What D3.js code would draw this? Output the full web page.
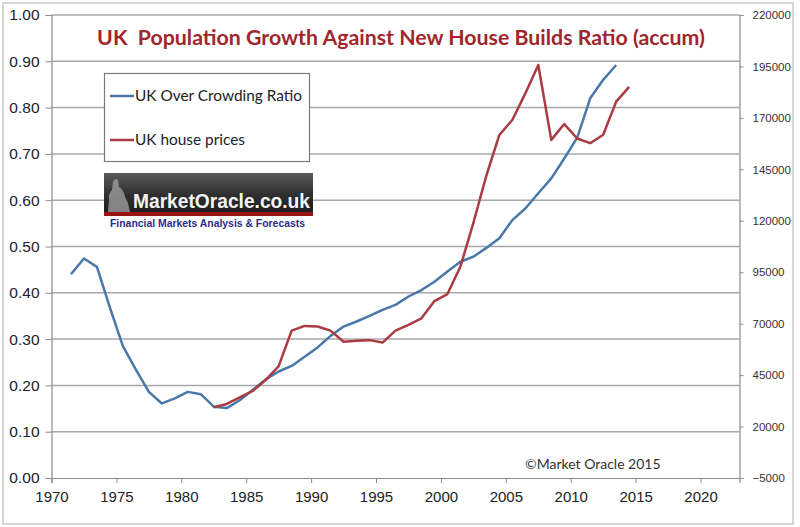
<!DOCTYPE html>
<html>
<head>
<meta charset="utf-8">
<script src="https://cdn.jsdelivr.net/npm/d3@7"></script>
<style>
  body { margin: 0; background: #fff; }
  svg { font-family: Lato, "Open Sans", sans-serif; }
</style>
</head>
<body>
<script>
// UK over crowding ratio (left axis), annual
const ratioYears = d3.range(1971, 2014)
const ratioValues = [0.44, 0.474, 0.456, 0.368, 0.285, 0.234, 0.186, 0.161, 0.172, 0.186,
    0.181, 0.154, 0.151, 0.168, 0.19, 0.213, 0.23, 0.242, 0.262, 0.282,
    0.307, 0.327, 0.338, 0.35, 0.363, 0.374, 0.392, 0.406, 0.424, 0.446,
    0.467, 0.478, 0.497, 0.518, 0.557, 0.582, 0.615, 0.647, 0.69, 0.735,
    0.82, 0.86, 0.892]

// UK house prices (right axis), annual
const priceYears = d3.range(1982, 2015)
const priceValues = [29400, 31000, 34200, 37300, 42600, 49400, 66600, 68900, 68600, 66600,
    61200, 61700, 62000, 60800, 66600, 69400, 72600, 81000, 84400, 97700,
    119000, 142000, 161700, 169000, 181900, 195700, 159300, 167000, 160000, 157700,
    161800, 177900, 185100]

const yearTicks = d3.range(1970, 2021, 5)
const leftTicks = d3.range(0, 11).map(d => d / 10)
const rightTicks = d3.range(-5000, 220001, 25000)

const W = 800, H = 527
const plot = { left: 51.5, right: 739.5, top: 15, bottom: 478 }

const svg = d3.select('body').append('svg')
    .attr('width', W)
    .attr('height', H)

// outer chart border
svg.append('rect')
    .attr('x', 3).attr('y', 3)
    .attr('width', 790).attr('height', 521)
    .attr('fill', '#fff')
    .attr('stroke', '#c8c8c8')
    .attr('stroke-width', 1.5)

const x = d3.scaleLinear().domain([1970, 2023]).range([plot.left, plot.right])
const yL = d3.scaleLinear().domain([0, 1]).range([plot.bottom, plot.top])
const yR = d3.scaleLinear().domain([-5000, 220000]).range([plot.bottom, plot.top])

// gridlines
svg.append('g')
    .selectAll('line')
    .data(leftTicks.slice(1))
    .enter().append('line')
    .attr('x1', plot.left)
    .attr('x2', plot.right)
    .attr('y1', d => yL(d))
    .attr('y2', d => yL(d))
    .attr('stroke', '#a8a8a8')
    .attr('stroke-width', 1.5)

// axes
const leftAxis = svg.append('g')
    .attr('transform', `translate(${plot.left}, 0)`)
    .call(d3.axisLeft(yL).tickValues(leftTicks).tickFormat(d3.format('.2f')).tickSize(6).tickPadding(6))
leftAxis.selectAll('text').style('font-size', '15.5px').attr('fill', '#222')

const rightAxis = svg.append('g')
    .attr('transform', `translate(${plot.right}, 0)`)
    .call(d3.axisRight(yR).tickValues(rightTicks).tickFormat(d3.format('d')).tickSize(4).tickPadding(9))
rightAxis.selectAll('text').style('font-size', '11.5px').attr('fill', '#333')

const bottomAxis = svg.append('g')
    .attr('transform', `translate(0, ${plot.bottom})`)
    .call(d3.axisBottom(x).tickValues(yearTicks).tickFormat(d3.format('d')).tickSize(5).tickPadding(8))
bottomAxis.selectAll('text').style('font-size', '15px').attr('fill', '#222')

svg.selectAll('.domain').attr('stroke', '#8c8c8c').attr('stroke-width', 1.2)
svg.selectAll('.tick line').attr('stroke', '#8c8c8c')

// lines, annual values plotted at mid-year
const ratioLine = d3.line()
    .x((d, i) => x(ratioYears[i] + 0.5))
    .y(d => yL(d))

const priceLine = d3.line()
    .x((d, i) => x(priceYears[i] + 0.5))
    .y(d => yR(d))

svg.append('path')
    .datum(ratioValues)
    .attr('d', ratioLine)
    .attr('fill', 'none')
    .attr('stroke', '#4a78a8')
    .attr('stroke-width', 2.5)
    .attr('stroke-linejoin', 'round')

svg.append('path')
    .datum(priceValues)
    .attr('d', priceLine)
    .attr('fill', 'none')
    .attr('stroke', '#a93c42')
    .attr('stroke-width', 2.5)
    .attr('stroke-linejoin', 'round')

// title
svg.append('text')
    .attr('x', 401)
    .attr('y', 45)
    .attr('text-anchor', 'middle')
    .style('white-space', 'pre')
    .style('font-size', '21.3px')
    .style('font-weight', 'bold')
    .attr('fill', '#a0262c')
    .text('UK  Population Growth Against New House Builds Ratio (accum)')

// legend
svg.append('rect')
    .attr('x', 104.5).attr('y', 73.5)
    .attr('width', 205).attr('height', 88)
    .attr('fill', '#fff')
    .attr('stroke', '#7a7a7a')
    .attr('stroke-width', 1.2)

const legendItems = [
    { name: 'UK Over Crowding Ratio', color: '#4a78a8', y: 96 },
    { name: 'UK house prices', color: '#a93c42', y: 140 }
]
const items = svg.selectAll('.legend-item')
    .data(legendItems)
    .enter().append('g')
    .attr('class', 'legend-item')
items.append('line')
    .attr('x1', 110).attr('x2', 134)
    .attr('y1', d => d.y).attr('y2', d => d.y)
    .attr('stroke', d => d.color)
    .attr('stroke-width', 2.5)
items.append('text')
    .attr('x', 135)
    .attr('y', d => d.y)
    .attr('dy', '0.35em')
    .style('font-size', '15.4px')
    .attr('fill', '#222')
    .text(d => d.name)

// MarketOracle logo
const defs = svg.append('defs')
const grad = defs.append('linearGradient')
    .attr('id', 'logoGrad')
    .attr('x1', 0).attr('y1', 0).attr('x2', 0).attr('y2', 1)
grad.append('stop').attr('offset', '0%').attr('stop-color', '#5a5a5a')
grad.append('stop').attr('offset', '55%').attr('stop-color', '#2e2e2e')
grad.append('stop').attr('offset', '100%').attr('stop-color', '#1c1c1c')

const logo = svg.append('g')
logo.append('rect')
    .attr('x', 104).attr('y', 173)
    .attr('width', 209).attr('height', 41)
    .attr('fill', 'url(#logoGrad)')
logo.append('rect')
    .attr('x', 104).attr('y', 212)
    .attr('width', 209).attr('height', 4)
    .attr('fill', '#9a1414')
// statue figure
logo.append('path')
    .attr('d', 'M108,212 L109,200 Q108,194 112,190 L113,182 Q115,177 118,180 L119,187 Q124,190 125,197 L128,203 L130,212 Z')
    .attr('fill', '#9c9c9c')
    .attr('opacity', 0.8)
logo.append('text')
    .attr('x', 133)
    .attr('y', 208)
    .attr('textLength', 177)
    .attr('lengthAdjust', 'spacingAndGlyphs')
    .style('font-family', '"Liberation Sans", Arial, sans-serif')
    .style('font-size', '20px')
    .style('font-weight', 'bold')
    .attr('fill', '#f4f4f4')
    .text('MarketOracle.co.uk')
logo.append('text')
    .attr('x', 110)
    .attr('y', 227)
    .attr('textLength', 195)
    .attr('lengthAdjust', 'spacingAndGlyphs')
    .style('font-family', '"Liberation Sans", Arial, sans-serif')
    .style('font-size', '10.5px')
    .style('font-weight', 'bold')
    .attr('fill', '#2c2c88')
    .text('Financial Markets Analysis & Forecasts')

// copyright
svg.append('text')
    .attr('x', 525)
    .attr('y', 469)
    .style('font-size', '14px')
    .attr('fill', '#333')
    .text('\u00A9Market Oracle 2015')
</script>
</body>
</html>
